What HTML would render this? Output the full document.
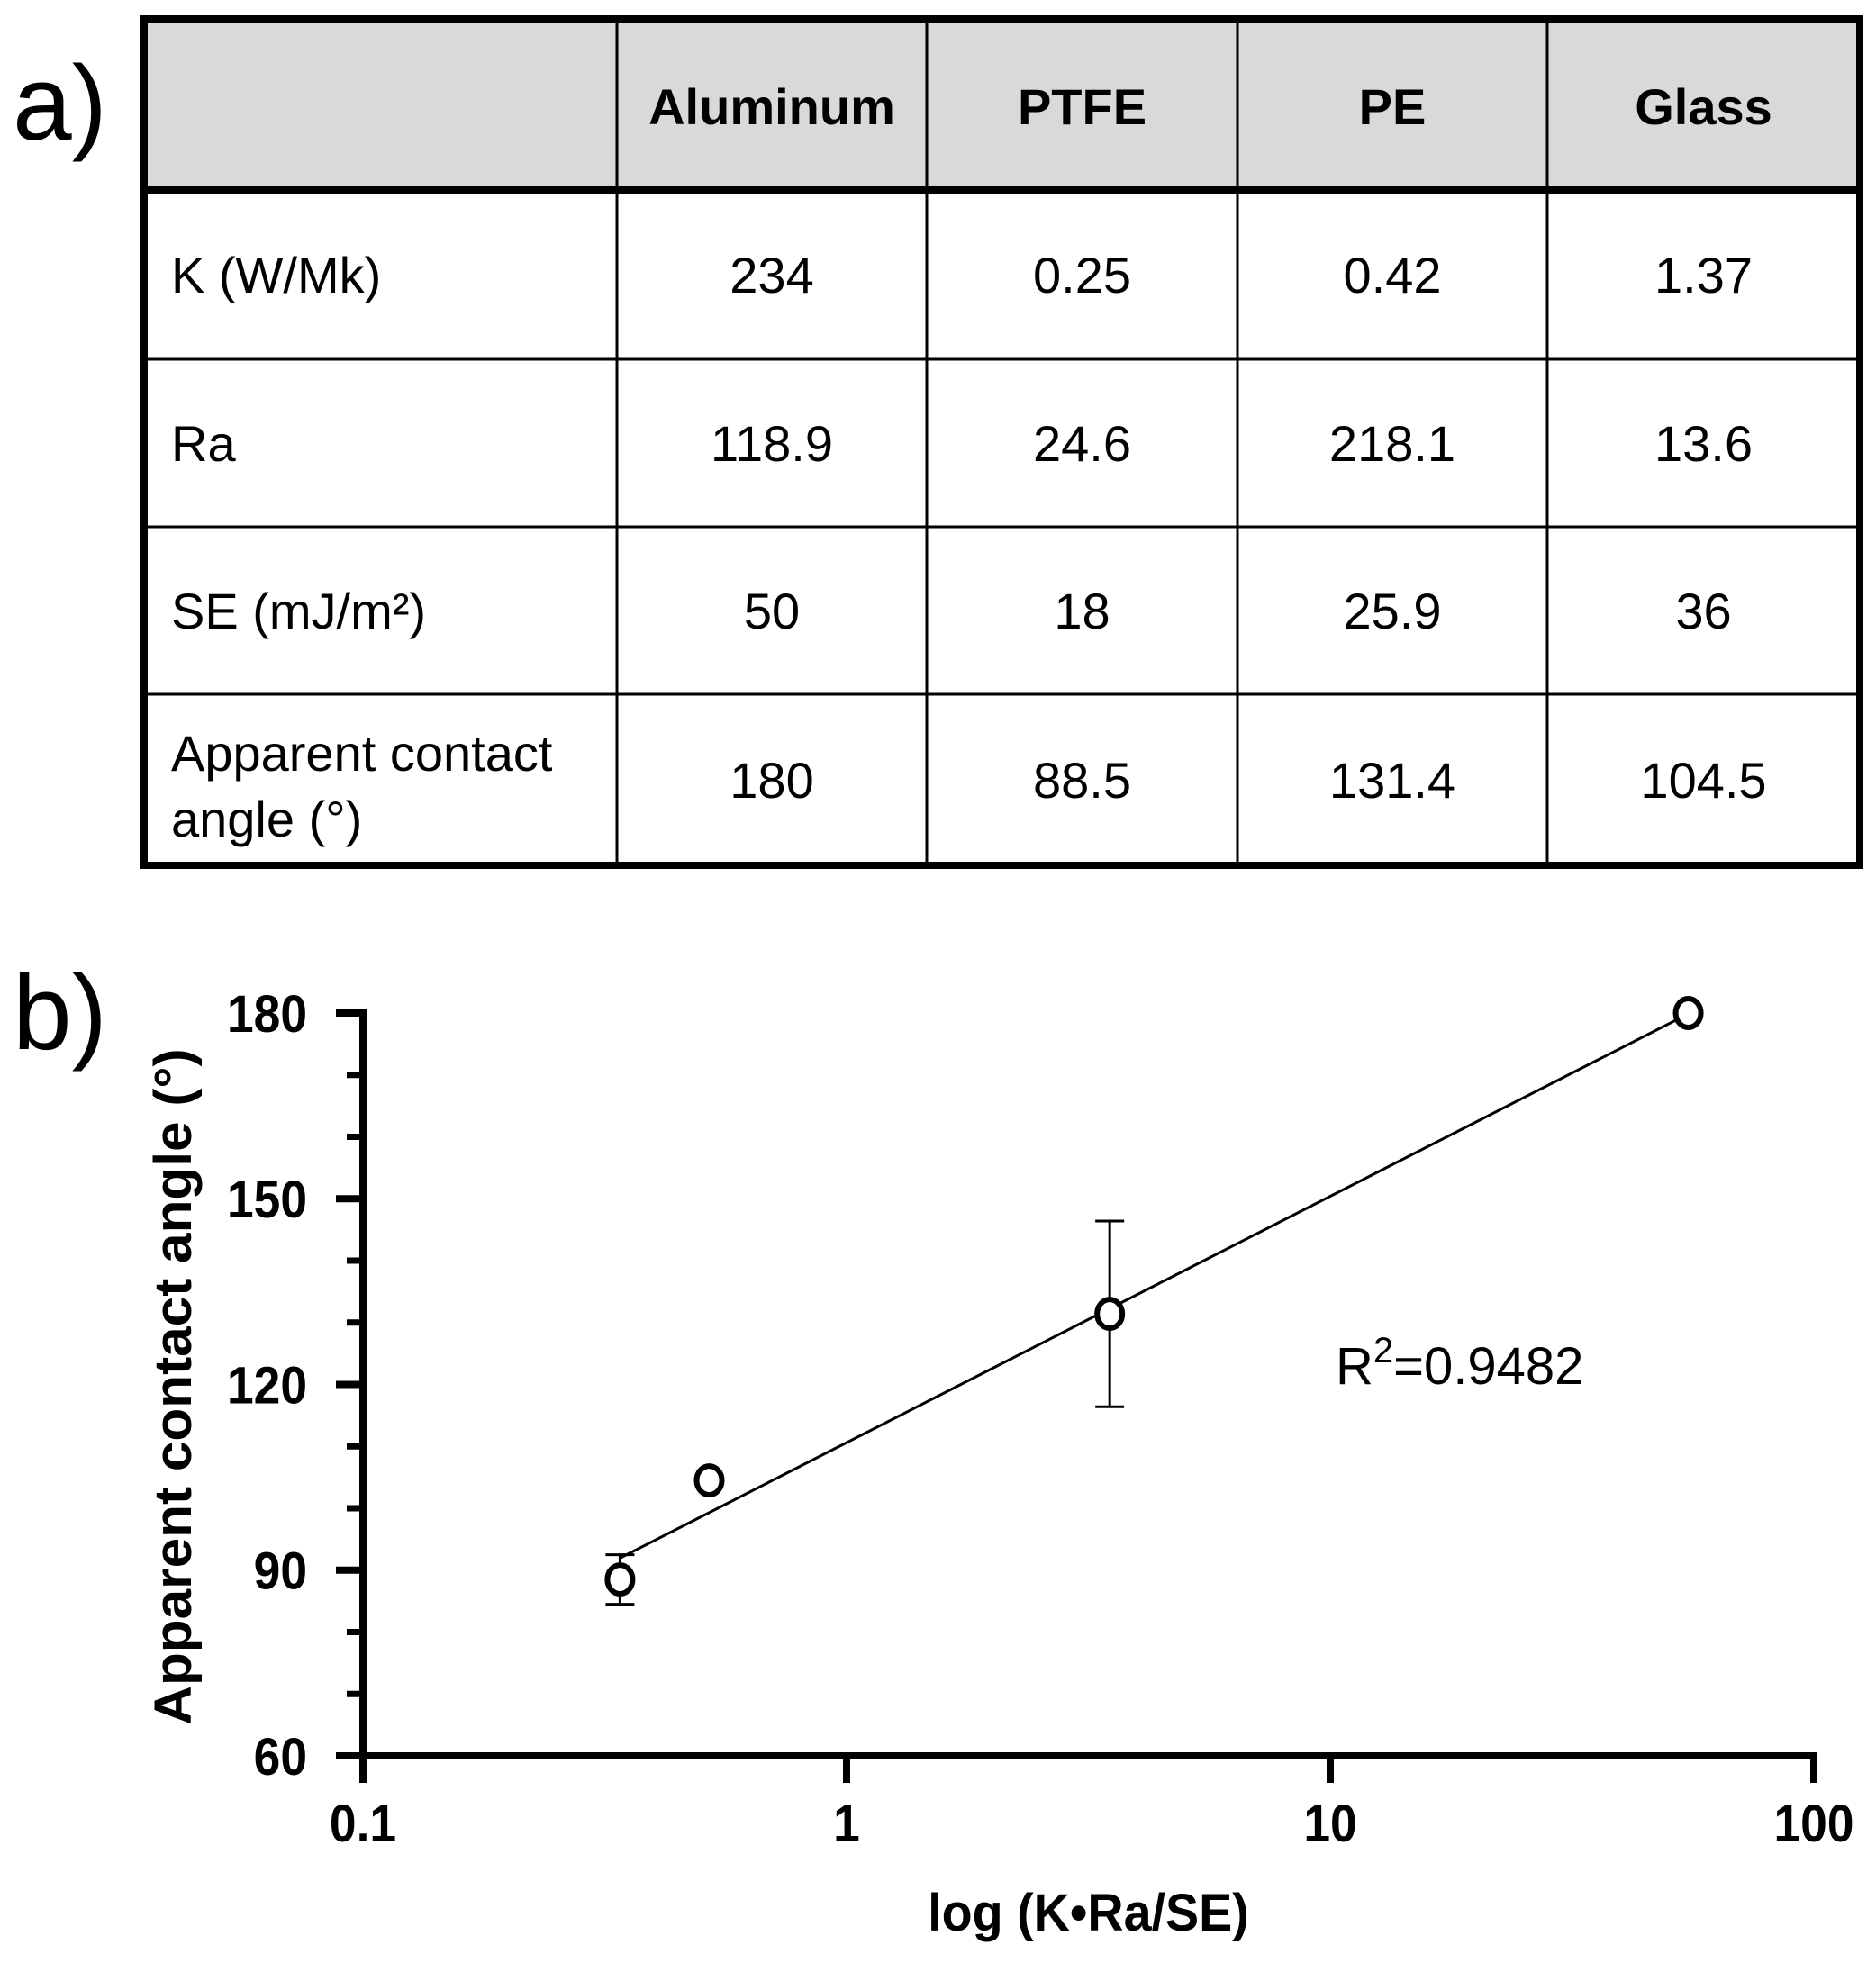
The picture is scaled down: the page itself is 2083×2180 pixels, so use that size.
<!DOCTYPE html>
<html><head><meta charset="utf-8"><style>
body{margin:0;background:#fff;}
svg{display:block;font-family:"Liberation Sans",Arial,sans-serif;}
</style></head><body>
<svg width="2083" height="2180" viewBox="0 0 2083 2180">
<text x="14" y="155" font-size="118">a)</text>
<g id="table"></g>
<text x="14" y="1165" font-size="118">b)</text>
<g id="chart"></g>
</svg>
<script>
const NS="http://www.w3.org/2000/svg";
function mk(parent,tag,attrs,text){const e=document.createElementNS(NS,tag);for(const k in attrs)e.setAttribute(k,attrs[k]);if(text!==undefined)e.textContent=text;parent.appendChild(e);return e;}

// ---- table ----
const colHeaders=["Aluminum","PTFE","PE","Glass"];
const rowHeaders=["K (W/Mk)","Ra","SE (mJ/m²)","Apparent contact angle (°)"];
const tableValues=[["234","0.25","0.42","1.37"],["118.9","24.6","218.1","13.6"],["50","18","25.9","36"],["180","88.5","131.4","104.5"]];
const T=document.getElementById('table');
const colX=[160,685,1029,1374,1718,2065];
const rowY=[21,211,399,585,771,961];
let hdr=mk(T,'rect',{x:160,y:21,width:1905,height:190,fill:'#d9d9d9'});


for(let i=1;i<colX.length-1;i++){mk(T,'line',{x1:colX[i],y1:21,x2:colX[i],y2:961,stroke:'#000','stroke-width':3});}
for(let j=2;j<rowY.length-1;j++){mk(T,'line',{x1:160,y1:rowY[j],x2:2065,y2:rowY[j],stroke:'#000','stroke-width':3});}
mk(T,'line',{x1:160,y1:211,x2:2065,y2:211,stroke:'#000','stroke-width':8});
mk(T,'rect',{x:160,y:21,width:1905,height:940,fill:'none',stroke:'#000','stroke-width':8});
colHeaders.forEach((h,i)=>{const t=mk(T,'text',{x:(colX[i+1]+colX[i+2])/2,y:138,'font-size':56,'font-weight':'bold','text-anchor':'middle'},h);

});
rowHeaders.forEach((h,j)=>{const cy=(rowY[j+1]+rowY[j+2])/2;
 if(j===3){const t=mk(T,'text',{x:190,y:cy-10,'font-size':56},'Apparent contact');mk(T,'text',{x:190,y:cy+63,'font-size':56},'angle (°)');}
 else{const t=mk(T,'text',{x:190,y:cy+20,'font-size':56},h);}
 tableValues[j].forEach((v,i)=>{const t=mk(T,'text',{x:(colX[i+1]+colX[i+2])/2,y:cy+20,'font-size':56,'text-anchor':'middle'},v);
 
 });
});

// ---- chart ----
const xTicks=[0.1,1,10,100];
const xTickLabels=["0.1","1","10","100"];
const yTicks=[60,90,120,150,180];
const materials=["Aluminum","PTFE","PE","Glass"];
const xValues=[55,0.34,3.5,0.52];
const yValues=[180,88.5,131.4,104.5];
const yErr=[0,4,15,0];
const fitIntercept=110.6, fitSlope=39.8; // y = a + b*log10(x)
const fitRange=[0.34,55];
const C=document.getElementById('chart');
const X0=403,X1=2014,Y0=1950,Y1=1125;
const sx=v=>X0+(Math.log10(v)+1)/3*(X1-X0);
const sy=v=>Y0-(v-60)/120*(Y0-Y1);
let ya=mk(C,'line',{x1:X0,y1:Y1-4,x2:X0,y2:Y0+4,stroke:'#000','stroke-width':8});

let xa=mk(C,'line',{x1:X0-4,y1:Y0,x2:X1+4,y2:Y0,stroke:'#000','stroke-width':8});

for(let v=60;v<=180;v+=10){const maj=yTicks.includes(v);mk(C,'line',{x1:X0,y1:sy(v),x2:X0-(maj?30:18),y2:sy(v),stroke:'#000','stroke-width':maj?8:7});}
yTicks.forEach(v=>{const t=mk(C,'text',{x:X0-62,y:sy(v)+21,'font-size':58,'font-weight':'bold','text-anchor':'end',transform:`translate(${X0-62},0) scale(0.92,1) translate(${-(X0-62)},0)`},String(v));
});
xTicks.forEach((v,i)=>{mk(C,'line',{x1:sx(v),y1:Y0,x2:sx(v),y2:Y0+30,stroke:'#000','stroke-width':8});
const t=mk(C,'text',{x:sx(v),y:Y0+95,'font-size':58,'font-weight':'bold','text-anchor':'middle',transform:`translate(${sx(v)},0) scale(0.92,1) translate(${-sx(v)},0)`},xTickLabels[i]);
});
let xt=mk(C,'text',{x:0,y:0,'font-size':58,'font-weight':'bold','text-anchor':'middle',transform:`translate(${(sx(1)+sx(10))/2},2144) scale(0.96,1)`},'log (K•Ra/SE)');

let yt=mk(C,'text',{x:0,y:0,'font-size':58,'font-weight':'bold','text-anchor':'middle',transform:'translate(212,1540) rotate(-90) scale(1.04,1)'},'Apparent contact angle (°)');

let fl=mk(C,'line',{x1:sx(fitRange[0]),y1:sy(fitIntercept+fitSlope*Math.log10(fitRange[0])),x2:sx(fitRange[1]),y2:sy(fitIntercept+fitSlope*Math.log10(fitRange[1])),stroke:'#000','stroke-width':3});

xValues.forEach((xv,i)=>{const cx=sx(xv),cy=sy(yValues[i]);
 if(yErr[i]>0){const g=mk(C,'g',{stroke:'#000','stroke-width':3});
 
 mk(g,'line',{x1:cx,y1:sy(yValues[i]+yErr[i]),x2:cx,y2:sy(yValues[i]-yErr[i])});
 mk(g,'line',{x1:cx-16,y1:sy(yValues[i]+yErr[i]),x2:cx+16,y2:sy(yValues[i]+yErr[i])});
 mk(g,'line',{x1:cx-16,y1:sy(yValues[i]-yErr[i]),x2:cx+16,y2:sy(yValues[i]-yErr[i])});}
 const p=mk(C,'ellipse',{cx:cx,cy:cy,rx:14,ry:16,fill:'#fff',stroke:'#000','stroke-width':6});
 
});
let r=mk(C,'text',{x:1483,y:1537,'font-size':58});

r.innerHTML='R<tspan dy="-24" font-size="40">2</tspan><tspan dy="24">=0.9482</tspan>';
</script>
</body></html>
